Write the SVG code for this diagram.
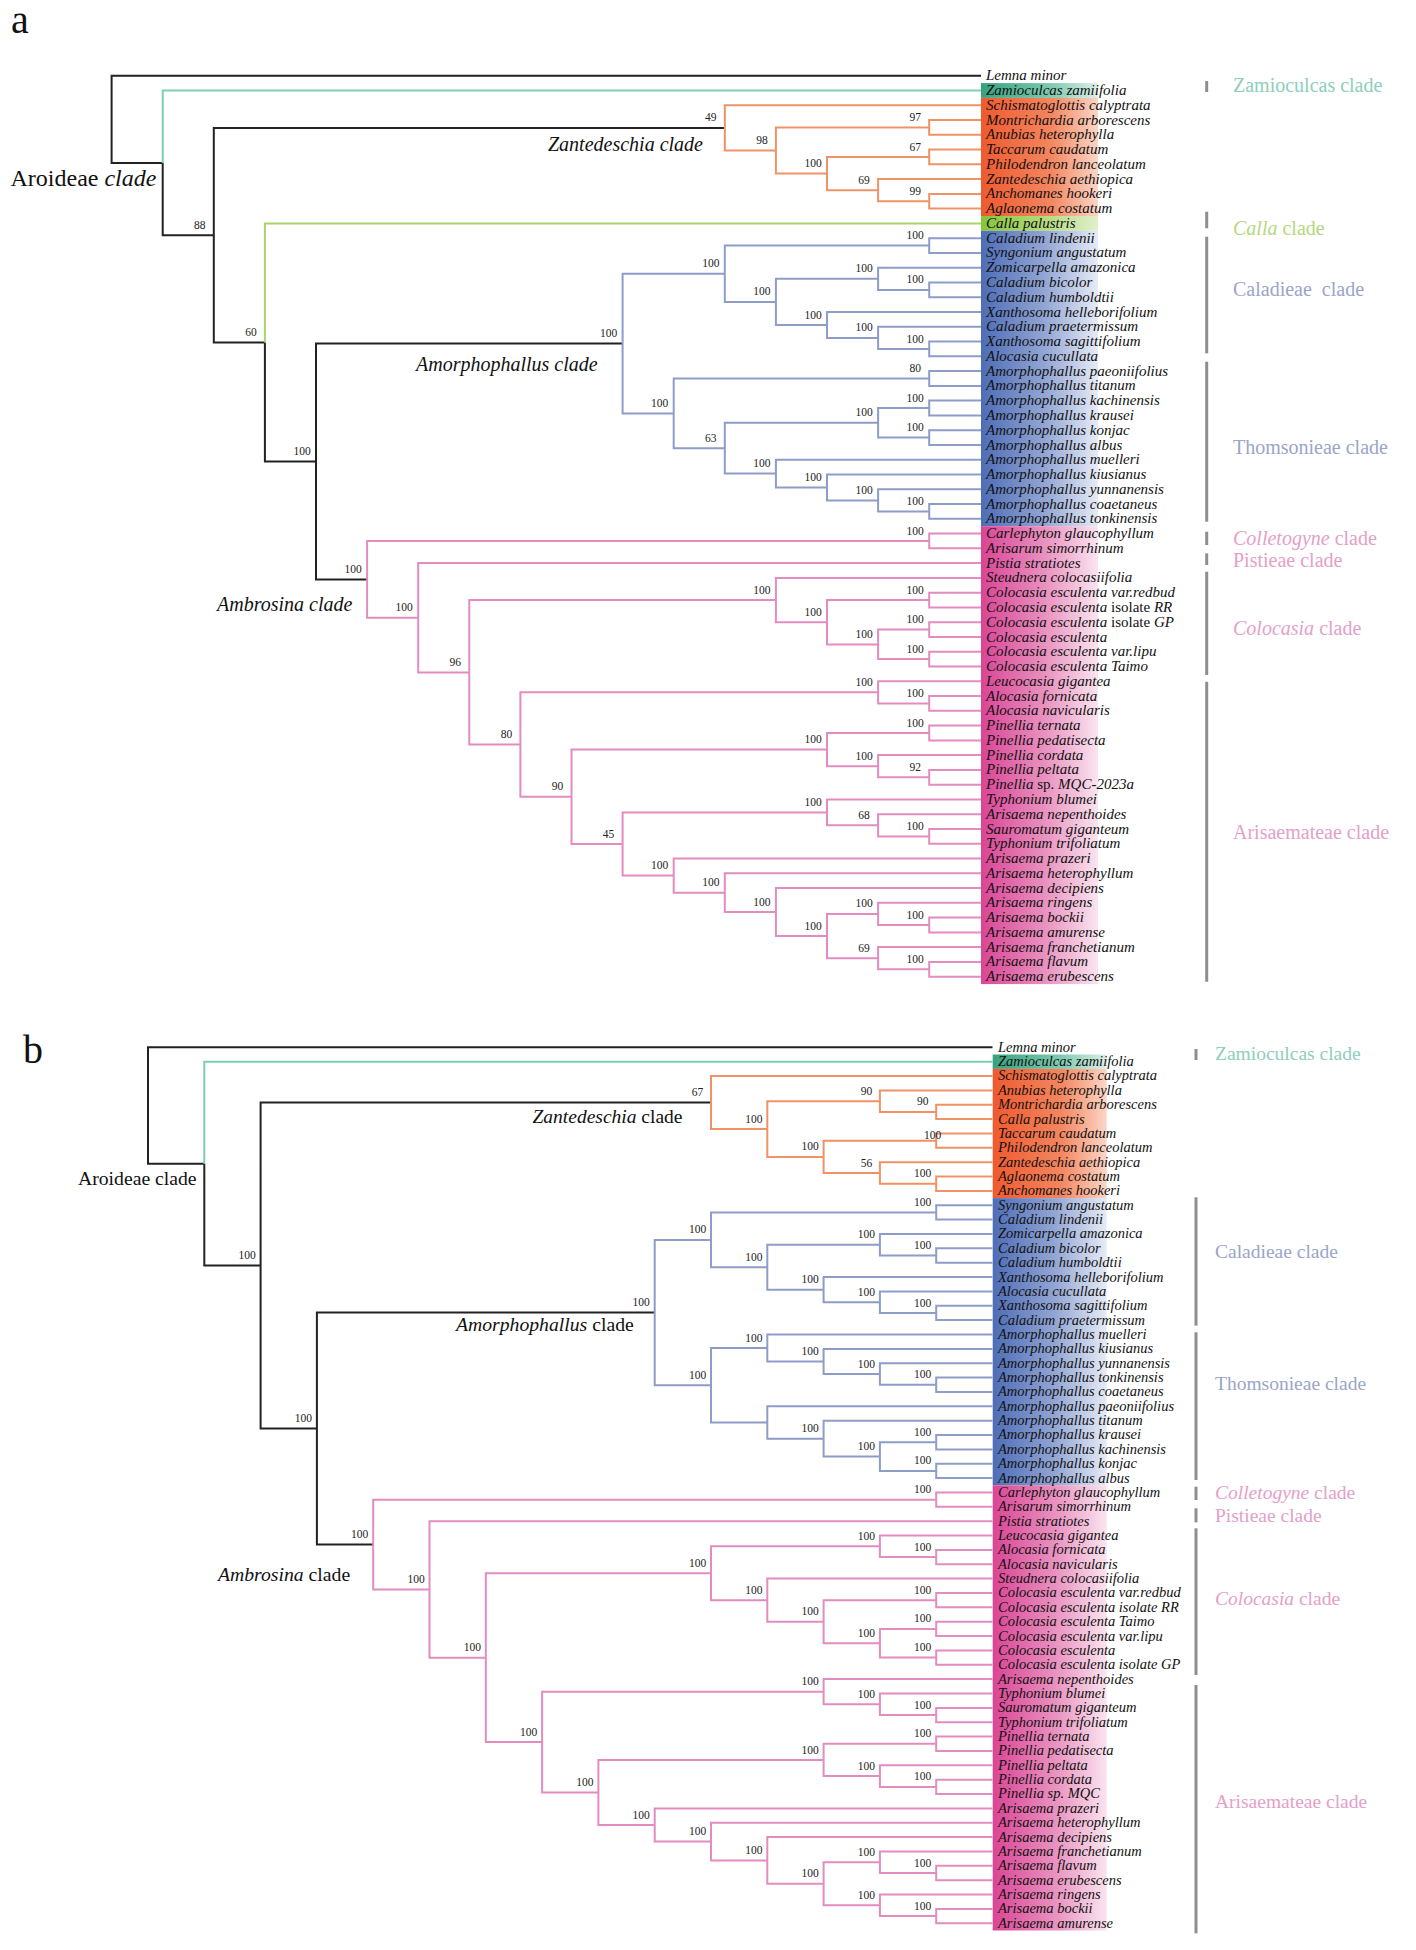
<svg xmlns="http://www.w3.org/2000/svg" width="1416" height="1950" viewBox="0 0 1416 1950">
<style>
.ta{font-family:"Liberation Serif",serif;font-style:italic;font-size:15px;fill:#111}
.tb{font-family:"Liberation Serif",serif;font-style:italic;font-size:14.5px;fill:#111}
.n{font-style:normal}
.i{font-style:italic}
.bs{font-family:"Liberation Serif",serif;font-size:11.5px;fill:#222;text-anchor:middle}
.cl{font-family:"Liberation Serif",serif;font-size:20px}
.clb{font-family:"Liberation Serif",serif;font-size:19.5px}
.tree{font-family:"Liberation Serif",serif;fill:#111}
.br{fill:none;stroke-width:2;stroke-linejoin:miter}
.k{stroke:#222}
.te{stroke:#7fcdb3}
.gr{stroke:#a8d46a}
.or{stroke:#ef9266}
.bl{stroke:#8d9dc8}
.pk{stroke:#e38cc0}
.bar{stroke:#8e8e8e;stroke-width:3}
.cte{fill:#8ccfba}.cgr{fill:#b6d77d}.cbl{fill:#9aa5c8}.cpk{fill:#e4a0c9}
.pl{font-family:"Liberation Serif",serif;font-size:40px;fill:#111}
</style>
<defs>
<linearGradient id="gT" x1="0" y1="0" x2="1" y2="0"><stop offset="0" stop-color="#36a27f"/><stop offset="0.6" stop-color="#7fc9b0"/><stop offset="1" stop-color="#dcf0e8"/></linearGradient>
<linearGradient id="gO" x1="0" y1="0" x2="1" y2="0"><stop offset="0" stop-color="#ef5a2f"/><stop offset="0.6" stop-color="#f38660"/><stop offset="1" stop-color="#fbd6c6"/></linearGradient>
<linearGradient id="gG" x1="0" y1="0" x2="1" y2="0"><stop offset="0" stop-color="#86c53b"/><stop offset="0.55" stop-color="#b4db7f"/><stop offset="1" stop-color="#e0f0cb"/></linearGradient>
<linearGradient id="gB" x1="0" y1="0" x2="1" y2="0"><stop offset="0" stop-color="#4e6db6"/><stop offset="0.55" stop-color="#93a6d4"/><stop offset="1" stop-color="#e6ebf6"/></linearGradient>
<linearGradient id="gP" x1="0" y1="0" x2="1" y2="0"><stop offset="0" stop-color="#da4595"/><stop offset="0.55" stop-color="#e992c0"/><stop offset="1" stop-color="#fae4ef"/></linearGradient>
</defs>
<rect width="1416" height="1950" fill="#fff"/>

<g id="panel-labels">
<text class="pl" x="11" y="33">a</text>
<text class="pl" x="23" y="1063">b</text>
</g>

<g id="highlights">
<rect x="981" y="83.1" width="117" height="14.8" fill="url(#gT)"/>
<rect x="981" y="97.9" width="117" height="118.1" fill="url(#gO)"/>
<rect x="981" y="216" width="117" height="14.8" fill="url(#gG)"/>
<rect x="981" y="230.8" width="117" height="295.4" fill="url(#gB)"/>
<rect x="981" y="526.2" width="117" height="457.9" fill="url(#gP)"/>
<rect x="992.7" y="1054.5" width="114" height="14.4" fill="url(#gT)"/>
<rect x="992.7" y="1068.9" width="114" height="129.2" fill="url(#gO)"/>
<rect x="992.7" y="1198.1" width="114" height="287.2" fill="url(#gB)"/>
<rect x="992.7" y="1485.3" width="114" height="445.2" fill="url(#gP)"/>
</g>

<g id="connectors">
<path class="br k" d="M111.6 119.3V75.7H981M111.6 119.3V162.9H162.7M162.7 162.9V235.2H213.8M213.8 235.2V127.9H724.8M213.8 235.2V342.5H264.9M264.9 342.5V461.5H316M316 461.5V343.6H622.6M316 461.5V579.4H367.1"/>
<path class="br te" d="M162.7 162.9V90.5H981"/>
<path class="br gr" d="M264.9 342.5V223.4H981"/>
<path class="br or" d="M724.8 127.9V105.2H981M724.8 127.9V150.5H775.9M775.9 150.5V127.4H929.2M775.9 150.5V173.6H827M929.2 127.4V120H981M929.2 127.4V134.8H981M827 173.6V157H929.2M827 173.6V190.2H878.1M929.2 157V149.6H981M929.2 157V164.3H981M878.1 190.2V179.1H981M878.1 190.2V201.3H929.2M929.2 201.3V193.9H981M929.2 201.3V208.6H981"/>
<path class="br bl" d="M622.6 343.6V273.8H724.8M622.6 343.6V413.4H673.7M724.8 273.8V245.6H929.2M724.8 273.8V301.9H775.9M929.2 245.6V238.2H981M929.2 245.6V252.9H981M775.9 301.9V278.8H878.1M775.9 301.9V325H827M878.1 278.8V267.7H981M878.1 278.8V289.9H929.2M929.2 289.9V282.5H981M929.2 289.9V297.3H981M827 325V312H981M827 325V337.9H878.1M878.1 337.9V326.8H981M878.1 337.9V349H929.2M929.2 349V341.6H981M929.2 349V356.3H981M673.7 413.4V378.5H929.2M673.7 413.4V448.2H724.8M929.2 378.5V371.1H981M929.2 378.5V385.9H981M724.8 448.2V422.8H878.1M724.8 448.2V473.6H775.9M878.1 422.8V408H929.2M878.1 422.8V437.6H929.2M929.2 408V400.6H981M929.2 408V415.4H981M929.2 437.6V430.2H981M929.2 437.6V445H981M775.9 473.6V459.7H981M775.9 473.6V487.5H827M827 487.5V474.5H981M827 487.5V500.4H878.1M878.1 500.4V489.3H981M878.1 500.4V511.4H929.2M929.2 511.4V504H981M929.2 511.4V518.8H981"/>
<path class="br pk" d="M367.1 579.4V541H929.2M367.1 579.4V617.8H418.2M929.2 541V533.6H981M929.2 541V548.3H981M418.2 617.8V563.1H981M418.2 617.8V672.4H469.3M469.3 672.4V600.1H775.9M469.3 672.4V744.6H520.4M775.9 600.1V577.9H981M775.9 600.1V622.2H827M827 622.2V600.1H929.2M827 622.2V644.4H878.1M929.2 600.1V592.7H981M929.2 600.1V607.4H981M878.1 644.4V629.6H929.2M878.1 644.4V659.1H929.2M929.2 629.6V622.2H981M929.2 629.6V637H981M929.2 659.1V651.7H981M929.2 659.1V666.5H981M520.4 744.6V692.3H878.1M520.4 744.6V796.8H571.5M878.1 692.3V681.3H981M878.1 692.3V703.4H929.2M929.2 703.4V696H981M929.2 703.4V710.8H981M571.5 796.8V749.6H827M571.5 796.8V844H622.6M827 749.6V733H929.2M827 749.6V766.2H878.1M929.2 733V725.6H981M929.2 733V740.4H981M878.1 766.2V755.1H981M878.1 766.2V777.3H929.2M929.2 777.3V769.9H981M929.2 777.3V784.7H981M622.6 844V812.4H827M622.6 844V875.6H673.7M827 812.4V799.4H981M827 812.4V825.3H878.1M878.1 825.3V814.2H981M878.1 825.3V836.4H929.2M929.2 836.4V829H981M929.2 836.4V843.7H981M673.7 875.6V858.5H981M673.7 875.6V892.7H724.8M724.8 892.7V873.3H981M724.8 892.7V912.1H775.9M775.9 912.1V888.1H981M775.9 912.1V936.1H827M827 936.1V913.9H878.1M827 936.1V958.2H878.1M878.1 913.9V902.8H981M878.1 913.9V925H929.2M929.2 925V917.6H981M929.2 925V932.4H981M878.1 958.2V947.1H981M878.1 958.2V969.3H929.2M929.2 969.3V961.9H981M929.2 969.3V976.7H981"/>

<path class="br k" d="M148 1105.5V1047.3H992.5M148 1105.5V1163.7H204.3M204.3 1163.7V1265.6H260.6M260.6 1265.6V1102.6H711M260.6 1265.6V1428.6H316.9M316.9 1428.6V1312.6H654.7M316.9 1428.6V1544.6H373.2"/>
<path class="br te" d="M204.3 1163.7V1061.7H992.5"/>
<path class="br or" d="M711 1102.6V1076H992.5M711 1102.6V1129.1H767.3M767.3 1129.1V1101.2H879.9M767.3 1129.1V1156.9H823.6M879.9 1101.2V1090.4H992.5M879.9 1101.2V1111.9H936.2M936.2 1111.9V1104.7H992.5M936.2 1111.9V1119.1H992.5M823.6 1156.9V1140.7H936.2M823.6 1156.9V1173H879.9M936.2 1140.7V1133.5H992.5M936.2 1140.7V1147.8H992.5M879.9 1173V1162.2H992.5M879.9 1173V1183.7H936.2M936.2 1183.7V1176.5H992.5M936.2 1183.7V1190.9H992.5"/>
<path class="br bl" d="M654.7 1312.6V1239.9H711M654.7 1312.6V1385.3H711M711 1239.9V1212.5H936.2M711 1239.9V1267.3H767.3M936.2 1212.5V1205.3H992.5M936.2 1212.5V1219.6H992.5M767.3 1267.3V1244.8H879.9M767.3 1267.3V1289.7H823.6M879.9 1244.8V1234H992.5M879.9 1244.8V1255.5H936.2M936.2 1255.5V1248.3H992.5M936.2 1255.5V1262.7H992.5M823.6 1289.7V1277.1H992.5M823.6 1289.7V1302.2H879.9M879.9 1302.2V1291.4H992.5M879.9 1302.2V1313H936.2M936.2 1313V1305.8H992.5M936.2 1313V1320.1H992.5M711 1385.3V1348H767.3M711 1385.3V1422.5H767.3M767.3 1348V1334.5H992.5M767.3 1348V1361.5H823.6M823.6 1361.5V1348.9H992.5M823.6 1361.5V1374H879.9M879.9 1374V1363.2H992.5M879.9 1374V1384.8H936.2M936.2 1384.8V1377.6H992.5M936.2 1384.8V1391.9H992.5M767.3 1422.5V1406.3H992.5M767.3 1422.5V1438.7H823.6M823.6 1438.7V1420.7H992.5M823.6 1438.7V1456.6H879.9M879.9 1456.6V1442.2H936.2M879.9 1456.6V1470.9H936.2M936.2 1442.2V1435H992.5M936.2 1442.2V1449.4H992.5M936.2 1470.9V1463.7H992.5M936.2 1470.9V1478.1H992.5"/>
<path class="br pk" d="M373.2 1544.6V1499.7H936.2M373.2 1544.6V1589.5H429.5M936.2 1499.7V1492.5H992.5M936.2 1499.7V1506.8H992.5M429.5 1589.5V1521.2H992.5M429.5 1589.5V1657.7H485.8M485.8 1657.7V1573.3H711M485.8 1657.7V1742.1H542.1M711 1573.3V1546.3H879.9M711 1573.3V1600.2H767.3M879.9 1546.3V1535.5H992.5M879.9 1546.3V1557.1H936.2M936.2 1557.1V1549.9H992.5M936.2 1557.1V1564.3H992.5M767.3 1600.2V1578.6H992.5M767.3 1600.2V1621.8H823.6M823.6 1621.8V1600.2H936.2M823.6 1621.8V1643.3H879.9M936.2 1600.2V1593H992.5M936.2 1600.2V1607.3H992.5M879.9 1643.3V1628.9H936.2M879.9 1643.3V1657.6H936.2M936.2 1628.9V1621.7H992.5M936.2 1628.9V1636.1H992.5M936.2 1657.6V1650.4H992.5M936.2 1657.6V1664.8H992.5M542.1 1742.1V1691.7H823.6M542.1 1742.1V1792.5H598.4M823.6 1691.7V1679.1H992.5M823.6 1691.7V1704.3H879.9M879.9 1704.3V1693.5H992.5M879.9 1704.3V1715.1H936.2M936.2 1715.1V1707.9H992.5M936.2 1715.1V1722.2H992.5M598.4 1792.5V1760H823.6M598.4 1792.5V1825H654.7M823.6 1760V1743.8H936.2M823.6 1760V1776.1H879.9M936.2 1743.8V1736.6H992.5M936.2 1743.8V1750.9H992.5M879.9 1776.1V1765.3H992.5M879.9 1776.1V1786.9H936.2M936.2 1786.9V1779.7H992.5M936.2 1786.9V1794H992.5M654.7 1825V1808.4H992.5M654.7 1825V1841.6H711M711 1841.6V1822.7H992.5M711 1841.6V1860.5H767.3M767.3 1860.5V1837.1H992.5M767.3 1860.5V1883.8H823.6M823.6 1883.8V1862.3H879.9M823.6 1883.8V1905.3H879.9M879.9 1862.3V1851.5H992.5M879.9 1862.3V1873H936.2M936.2 1873V1865.8H992.5M936.2 1873V1880.2H992.5M879.9 1905.3V1894.5H992.5M879.9 1905.3V1916.1H936.2M936.2 1916.1V1908.9H992.5M936.2 1916.1V1923.3H992.5"/>
</g>

<g id="support-a">
<text class="bs" x="199.8" y="228.7">88</text>
<text class="bs" x="250.9" y="336">60</text>
<text class="bs" x="302" y="455">100</text>
<text class="bs" x="608.6" y="337.1">100</text>
<text class="bs" x="353.1" y="572.9">100</text>
<text class="bs" x="710.8" y="121.4">49</text>
<text class="bs" x="761.9" y="144">98</text>
<text class="bs" x="813" y="167.1">100</text>
<text class="bs" x="864.1" y="183.7">69</text>
<text class="bs" x="915.2" y="120.9">97</text>
<text class="bs" x="915.2" y="150.5">67</text>
<text class="bs" x="915.2" y="194.8">99</text>
<text class="bs" x="710.8" y="267.3">100</text>
<text class="bs" x="915.2" y="239.1">100</text>
<text class="bs" x="761.9" y="295.4">100</text>
<text class="bs" x="864.1" y="272.3">100</text>
<text class="bs" x="915.2" y="283.4">100</text>
<text class="bs" x="813" y="318.5">100</text>
<text class="bs" x="864.1" y="331.4">100</text>
<text class="bs" x="915.2" y="342.5">100</text>
<text class="bs" x="659.7" y="406.9">100</text>
<text class="bs" x="915.2" y="372">80</text>
<text class="bs" x="710.8" y="441.7">63</text>
<text class="bs" x="864.1" y="416.3">100</text>
<text class="bs" x="915.2" y="401.5">100</text>
<text class="bs" x="915.2" y="431.1">100</text>
<text class="bs" x="761.9" y="467.1">100</text>
<text class="bs" x="813" y="481">100</text>
<text class="bs" x="864.1" y="493.9">100</text>
<text class="bs" x="915.2" y="504.9">100</text>
<text class="bs" x="915.2" y="534.5">100</text>
<text class="bs" x="404.2" y="611.3">100</text>
<text class="bs" x="455.3" y="665.9">96</text>
<text class="bs" x="761.9" y="593.6">100</text>
<text class="bs" x="813" y="615.7">100</text>
<text class="bs" x="915.2" y="593.6">100</text>
<text class="bs" x="864.1" y="637.9">100</text>
<text class="bs" x="915.2" y="623.1">100</text>
<text class="bs" x="915.2" y="652.6">100</text>
<text class="bs" x="506.4" y="738.1">80</text>
<text class="bs" x="864.1" y="685.8">100</text>
<text class="bs" x="915.2" y="696.9">100</text>
<text class="bs" x="557.5" y="790.3">90</text>
<text class="bs" x="813" y="743.1">100</text>
<text class="bs" x="915.2" y="726.5">100</text>
<text class="bs" x="864.1" y="759.7">100</text>
<text class="bs" x="915.2" y="770.8">92</text>
<text class="bs" x="608.6" y="837.5">45</text>
<text class="bs" x="813" y="805.9">100</text>
<text class="bs" x="864.1" y="818.8">68</text>
<text class="bs" x="915.2" y="829.9">100</text>
<text class="bs" x="659.7" y="869.1">100</text>
<text class="bs" x="710.8" y="886.2">100</text>
<text class="bs" x="761.9" y="905.6">100</text>
<text class="bs" x="813" y="929.6">100</text>
<text class="bs" x="864.1" y="907.4">100</text>
<text class="bs" x="915.2" y="918.5">100</text>
<text class="bs" x="864.1" y="951.7">69</text>
<text class="bs" x="915.2" y="962.8">100</text>
</g>

<g id="support-b">
<text class="bs" x="247.1" y="1259.1">100</text>
<text class="bs" x="303.4" y="1422.1">100</text>
<text class="bs" x="359.7" y="1538.1">100</text>
<text class="bs" x="641.2" y="1306.1">100</text>
<text class="bs" x="697.5" y="1096.1">67</text>
<text class="bs" x="753.8" y="1122.6">100</text>
<text class="bs" x="866.4" y="1094.7">90</text>
<text class="bs" x="922.7" y="1105.4">90</text>
<text class="bs" x="810.1" y="1150.4">100</text>
<text class="bs" x="932.5" y="1139">100</text>
<text class="bs" x="866.4" y="1166.5">56</text>
<text class="bs" x="922.7" y="1177.2">100</text>
<text class="bs" x="697.5" y="1233.4">100</text>
<text class="bs" x="922.7" y="1206">100</text>
<text class="bs" x="753.8" y="1260.8">100</text>
<text class="bs" x="866.4" y="1238.3">100</text>
<text class="bs" x="922.7" y="1249">100</text>
<text class="bs" x="810.1" y="1283.2">100</text>
<text class="bs" x="866.4" y="1295.7">100</text>
<text class="bs" x="922.7" y="1306.5">100</text>
<text class="bs" x="697.5" y="1378.8">100</text>
<text class="bs" x="753.8" y="1341.5">100</text>
<text class="bs" x="810.1" y="1355">100</text>
<text class="bs" x="866.4" y="1367.5">100</text>
<text class="bs" x="922.7" y="1378.3">100</text>
<text class="bs" x="810.1" y="1432.2">100</text>
<text class="bs" x="866.4" y="1450.1">100</text>
<text class="bs" x="922.7" y="1435.7">100</text>
<text class="bs" x="922.7" y="1464.4">100</text>
<text class="bs" x="922.7" y="1493.2">100</text>
<text class="bs" x="416" y="1583">100</text>
<text class="bs" x="472.3" y="1651.2">100</text>
<text class="bs" x="697.5" y="1566.8">100</text>
<text class="bs" x="866.4" y="1539.8">100</text>
<text class="bs" x="922.7" y="1550.6">100</text>
<text class="bs" x="753.8" y="1593.7">100</text>
<text class="bs" x="810.1" y="1615.3">100</text>
<text class="bs" x="922.7" y="1593.7">100</text>
<text class="bs" x="866.4" y="1636.8">100</text>
<text class="bs" x="922.7" y="1622.4">100</text>
<text class="bs" x="922.7" y="1651.1">100</text>
<text class="bs" x="528.6" y="1735.6">100</text>
<text class="bs" x="810.1" y="1685.2">100</text>
<text class="bs" x="866.4" y="1697.8">100</text>
<text class="bs" x="922.7" y="1708.6">100</text>
<text class="bs" x="584.9" y="1786">100</text>
<text class="bs" x="810.1" y="1753.5">100</text>
<text class="bs" x="922.7" y="1737.3">100</text>
<text class="bs" x="866.4" y="1769.6">100</text>
<text class="bs" x="922.7" y="1780.4">100</text>
<text class="bs" x="641.2" y="1818.5">100</text>
<text class="bs" x="697.5" y="1835.1">100</text>
<text class="bs" x="753.8" y="1854">100</text>
<text class="bs" x="810.1" y="1877.3">100</text>
<text class="bs" x="866.4" y="1855.8">100</text>
<text class="bs" x="922.7" y="1866.5">100</text>
<text class="bs" x="866.4" y="1898.8">100</text>
<text class="bs" x="922.7" y="1909.6">100</text>
</g>

<g id="tree-clade-names">
<text class="tree" x="10.5" y="186" font-size="24">Aroideae <tspan class="i">clade</tspan></text>
<text class="tree i" x="548" y="150.5" font-size="20">Zantedeschia clade</text>
<text class="tree i" x="416" y="371" font-size="20">Amorphophallus clade</text>
<text class="tree i" x="217" y="611" font-size="20">Ambrosina clade</text>
<text class="tree" x="78" y="1185" font-size="19.7">Aroideae clade</text>
<text class="tree" x="532.5" y="1122.5" font-size="19.5"><tspan class="i">Zantedeschia</tspan> clade</text>
<text class="tree" x="456" y="1331" font-size="19.7"><tspan class="i">Amorphophallus</tspan> clade</text>
<text class="tree" x="218" y="1581" font-size="19.7"><tspan class="i">Ambrosina</tspan> clade</text>
</g>

<g id="clade-bars">
<line class="bar" x1="1206.7" y1="81" x2="1206.7" y2="92"/>
<line class="bar" x1="1206.7" y1="211.7" x2="1206.7" y2="228.3"/>
<line class="bar" x1="1206.7" y1="236.7" x2="1206.7" y2="353.3"/>
<line class="bar" x1="1206.7" y1="361.7" x2="1206.7" y2="521.7"/>
<line class="bar" x1="1206.7" y1="531.7" x2="1206.7" y2="545"/>
<line class="bar" x1="1206.7" y1="553.3" x2="1206.7" y2="565"/>
<line class="bar" x1="1206.7" y1="571.7" x2="1206.7" y2="675"/>
<line class="bar" x1="1206.7" y1="681.7" x2="1206.7" y2="981.7"/>
<line class="bar" x1="1196" y1="1049" x2="1196" y2="1060"/>
<line class="bar" x1="1196" y1="1197.3" x2="1196" y2="1325.7"/>
<line class="bar" x1="1196" y1="1332.3" x2="1196" y2="1480"/>
<line class="bar" x1="1196" y1="1486.7" x2="1196" y2="1500"/>
<line class="bar" x1="1196" y1="1508.3" x2="1196" y2="1522.3"/>
<line class="bar" x1="1196" y1="1528.3" x2="1196" y2="1675"/>
<line class="bar" x1="1196" y1="1685" x2="1196" y2="1933.3"/>
</g>

<g id="clade-names-a">
<text class="cl cte" x="1233" y="92">Zamioculcas clade</text>
<text class="cl cgr" x="1233" y="235"><tspan class="i">Calla</tspan> clade</text>
<text class="cl cbl" x="1233" y="296">Caladieae&#160; clade</text>
<text class="cl cbl" x="1233" y="454">Thomsonieae clade</text>
<text class="cl cpk" x="1233" y="545"><tspan class="i">Colletogyne</tspan> clade</text>
<text class="cl cpk" x="1233" y="567">Pistieae clade</text>
<text class="cl cpk" x="1233" y="635"><tspan class="i">Colocasia</tspan> clade</text>
<text class="cl cpk" x="1233" y="839">Arisaemateae clade</text>
</g>
<g id="clade-names-b">
<text class="clb cte" x="1215" y="1060">Zamioculcas clade</text>
<text class="clb cbl" x="1215" y="1258">Caladieae clade</text>
<text class="clb cbl" x="1215" y="1390">Thomsonieae clade</text>
<text class="clb cpk" x="1215" y="1499"><tspan class="i">Colletogyne</tspan> clade</text>
<text class="clb cpk" x="1215" y="1522">Pistieae clade</text>
<text class="clb cpk" x="1215" y="1605"><tspan class="i">Colocasia</tspan> clade</text>
<text class="clb cpk" x="1215" y="1808">Arisaemateae clade</text>
</g>

<g id="leaves-a">
<g id="a00"><text class="ta" x="986" y="80.2" font-size="13.5">Lemna minor</text></g>
<g id="a01"><text class="ta" x="986" y="95">Zamioculcas zamiifolia</text></g>
<g id="a02"><text class="ta" x="986" y="109.7">Schismatoglottis calyptrata</text></g>
<g id="a03"><text class="ta" x="986" y="124.5">Montrichardia arborescens</text></g>
<g id="a04"><text class="ta" x="986" y="139.3">Anubias heterophylla</text></g>
<g id="a05"><text class="ta" x="986" y="154.1">Taccarum caudatum</text></g>
<g id="a06"><text class="ta" x="986" y="168.8">Philodendron lanceolatum</text></g>
<g id="a07"><text class="ta" x="986" y="183.6">Zantedeschia aethiopica</text></g>
<g id="a08"><text class="ta" x="986" y="198.4">Anchomanes hookeri</text></g>
<g id="a09"><text class="ta" x="986" y="213.1">Aglaonema costatum</text></g>
<g id="a10"><text class="ta" x="986" y="227.9">Calla palustris</text></g>
<g id="a11"><text class="ta" x="986" y="242.7">Caladium lindenii</text></g>
<g id="a12"><text class="ta" x="986" y="257.4">Syngonium angustatum</text></g>
<g id="a13"><text class="ta" x="986" y="272.2">Zomicarpella amazonica</text></g>
<g id="a14"><text class="ta" x="986" y="287">Caladium bicolor</text></g>
<g id="a15"><text class="ta" x="986" y="301.8">Caladium humboldtii</text></g>
<g id="a16"><text class="ta" x="986" y="316.5">Xanthosoma helleborifolium</text></g>
<g id="a17"><text class="ta" x="986" y="331.3">Caladium praetermissum</text></g>
<g id="a18"><text class="ta" x="986" y="346.1">Xanthosoma sagittifolium</text></g>
<g id="a19"><text class="ta" x="986" y="360.8">Alocasia cucullata</text></g>
<g id="a20"><text class="ta" x="986" y="375.6">Amorphophallus paeoniifolius</text></g>
<g id="a21"><text class="ta" x="986" y="390.4">Amorphophallus titanum</text></g>
<g id="a22"><text class="ta" x="986" y="405.1">Amorphophallus kachinensis</text></g>
<g id="a23"><text class="ta" x="986" y="419.9">Amorphophallus krausei</text></g>
<g id="a24"><text class="ta" x="986" y="434.7">Amorphophallus konjac</text></g>
<g id="a25"><text class="ta" x="986" y="449.5">Amorphophallus albus</text></g>
<g id="a26"><text class="ta" x="986" y="464.2">Amorphophallus muelleri</text></g>
<g id="a27"><text class="ta" x="986" y="479">Amorphophallus kiusianus</text></g>
<g id="a28"><text class="ta" x="986" y="493.8">Amorphophallus yunnanensis</text></g>
<g id="a29"><text class="ta" x="986" y="508.5">Amorphophallus coaetaneus</text></g>
<g id="a30"><text class="ta" x="986" y="523.3">Amorphophallus tonkinensis</text></g>
<g id="a31"><text class="ta" x="986" y="538.1">Carlephyton glaucophyllum</text></g>
<g id="a32"><text class="ta" x="986" y="552.8">Arisarum simorrhinum</text></g>
<g id="a33"><text class="ta" x="986" y="567.6">Pistia stratiotes</text></g>
<g id="a34"><text class="ta" x="986" y="582.4">Steudnera colocasiifolia</text></g>
<g id="a35"><text class="ta" x="986" y="597.2">Colocasia esculenta var.redbud</text></g>
<g id="a36"><text class="ta" x="986" y="611.9">Colocasia esculenta <tspan class="n">isolate</tspan> RR</text></g>
<g id="a37"><text class="ta" x="986" y="626.7">Colocasia esculenta <tspan class="n">isolate</tspan> GP</text></g>
<g id="a38"><text class="ta" x="986" y="641.5">Colocasia esculenta</text></g>
<g id="a39"><text class="ta" x="986" y="656.2">Colocasia esculenta var.lipu</text></g>
<g id="a40"><text class="ta" x="986" y="671">Colocasia esculenta Taimo</text></g>
<g id="a41"><text class="ta" x="986" y="685.8">Leucocasia gigantea</text></g>
<g id="a42"><text class="ta" x="986" y="700.5">Alocasia fornicata</text></g>
<g id="a43"><text class="ta" x="986" y="715.3">Alocasia navicularis</text></g>
<g id="a44"><text class="ta" x="986" y="730.1">Pinellia ternata</text></g>
<g id="a45"><text class="ta" x="986" y="744.9">Pinellia pedatisecta</text></g>
<g id="a46"><text class="ta" x="986" y="759.6">Pinellia cordata</text></g>
<g id="a47"><text class="ta" x="986" y="774.4">Pinellia peltata</text></g>
<g id="a48"><text class="ta" x="986" y="789.2">Pinellia <tspan class="n">sp.</tspan> MQC-2023a</text></g>
<g id="a49"><text class="ta" x="986" y="803.9">Typhonium blumei</text></g>
<g id="a50"><text class="ta" x="986" y="818.7">Arisaema nepenthoides</text></g>
<g id="a51"><text class="ta" x="986" y="833.5">Sauromatum giganteum</text></g>
<g id="a52"><text class="ta" x="986" y="848.2">Typhonium trifoliatum</text></g>
<g id="a53"><text class="ta" x="986" y="863">Arisaema prazeri</text></g>
<g id="a54"><text class="ta" x="986" y="877.8">Arisaema heterophyllum</text></g>
<g id="a55"><text class="ta" x="986" y="892.6">Arisaema decipiens</text></g>
<g id="a56"><text class="ta" x="986" y="907.3">Arisaema ringens</text></g>
<g id="a57"><text class="ta" x="986" y="922.1">Arisaema bockii</text></g>
<g id="a58"><text class="ta" x="986" y="936.9">Arisaema amurense</text></g>
<g id="a59"><text class="ta" x="986" y="951.6">Arisaema franchetianum</text></g>
<g id="a60"><text class="ta" x="986" y="966.4">Arisaema flavum</text></g>
<g id="a61"><text class="ta" x="986" y="981.2">Arisaema erubescens</text></g>
</g>

<g id="leaves-b">
<g id="b00"><text class="tb" x="998" y="1051.7" font-size="13">Lemna minor</text></g>
<g id="b01"><text class="tb" x="998" y="1066.1">Zamioculcas zamiifolia</text></g>
<g id="b02"><text class="tb" x="998" y="1080.4">Schismatoglottis calyptrata</text></g>
<g id="b03"><text class="tb" x="998" y="1094.8">Anubias heterophylla</text></g>
<g id="b04"><text class="tb" x="998" y="1109.1">Montrichardia arborescens</text></g>
<g id="b05"><text class="tb" x="998" y="1123.5">Calla palustris</text></g>
<g id="b06"><text class="tb" x="998" y="1137.9">Taccarum caudatum</text></g>
<g id="b07"><text class="tb" x="998" y="1152.2">Philodendron lanceolatum</text></g>
<g id="b08"><text class="tb" x="998" y="1166.6">Zantedeschia aethiopica</text></g>
<g id="b09"><text class="tb" x="998" y="1180.9">Aglaonema costatum</text></g>
<g id="b10"><text class="tb" x="998" y="1195.3">Anchomanes hookeri</text></g>
<g id="b11"><text class="tb" x="998" y="1209.7">Syngonium angustatum</text></g>
<g id="b12"><text class="tb" x="998" y="1224">Caladium lindenii</text></g>
<g id="b13"><text class="tb" x="998" y="1238.4">Zomicarpella amazonica</text></g>
<g id="b14"><text class="tb" x="998" y="1252.7">Caladium bicolor</text></g>
<g id="b15"><text class="tb" x="998" y="1267.1">Caladium humboldtii</text></g>
<g id="b16"><text class="tb" x="998" y="1281.5">Xanthosoma helleborifolium</text></g>
<g id="b17"><text class="tb" x="998" y="1295.8">Alocasia cucullata</text></g>
<g id="b18"><text class="tb" x="998" y="1310.2">Xanthosoma sagittifolium</text></g>
<g id="b19"><text class="tb" x="998" y="1324.5">Caladium praetermissum</text></g>
<g id="b20"><text class="tb" x="998" y="1338.9">Amorphophallus muelleri</text></g>
<g id="b21"><text class="tb" x="998" y="1353.3">Amorphophallus kiusianus</text></g>
<g id="b22"><text class="tb" x="998" y="1367.6">Amorphophallus yunnanensis</text></g>
<g id="b23"><text class="tb" x="998" y="1382">Amorphophallus tonkinensis</text></g>
<g id="b24"><text class="tb" x="998" y="1396.3">Amorphophallus coaetaneus</text></g>
<g id="b25"><text class="tb" x="998" y="1410.7">Amorphophallus paeoniifolius</text></g>
<g id="b26"><text class="tb" x="998" y="1425.1">Amorphophallus titanum</text></g>
<g id="b27"><text class="tb" x="998" y="1439.4">Amorphophallus krausei</text></g>
<g id="b28"><text class="tb" x="998" y="1453.8">Amorphophallus kachinensis</text></g>
<g id="b29"><text class="tb" x="998" y="1468.1">Amorphophallus konjac</text></g>
<g id="b30"><text class="tb" x="998" y="1482.5">Amorphophallus albus</text></g>
<g id="b31"><text class="tb" x="998" y="1496.9">Carlephyton glaucophyllum</text></g>
<g id="b32"><text class="tb" x="998" y="1511.2">Arisarum simorrhinum</text></g>
<g id="b33"><text class="tb" x="998" y="1525.6">Pistia stratiotes</text></g>
<g id="b34"><text class="tb" x="998" y="1539.9">Leucocasia gigantea</text></g>
<g id="b35"><text class="tb" x="998" y="1554.3">Alocasia fornicata</text></g>
<g id="b36"><text class="tb" x="998" y="1568.7">Alocasia navicularis</text></g>
<g id="b37"><text class="tb" x="998" y="1583">Steudnera colocasiifolia</text></g>
<g id="b38"><text class="tb" x="998" y="1597.4">Colocasia esculenta var.redbud</text></g>
<g id="b39"><text class="tb" x="998" y="1611.7">Colocasia esculenta isolate RR</text></g>
<g id="b40"><text class="tb" x="998" y="1626.1">Colocasia esculenta Taimo</text></g>
<g id="b41"><text class="tb" x="998" y="1640.5">Colocasia esculenta var.lipu</text></g>
<g id="b42"><text class="tb" x="998" y="1654.8">Colocasia esculenta</text></g>
<g id="b43"><text class="tb" x="998" y="1669.2">Colocasia esculenta isolate GP</text></g>
<g id="b44"><text class="tb" x="998" y="1683.5">Arisaema nepenthoides</text></g>
<g id="b45"><text class="tb" x="998" y="1697.9">Typhonium blumei</text></g>
<g id="b46"><text class="tb" x="998" y="1712.3">Sauromatum giganteum</text></g>
<g id="b47"><text class="tb" x="998" y="1726.6">Typhonium trifoliatum</text></g>
<g id="b48"><text class="tb" x="998" y="1741">Pinellia ternata</text></g>
<g id="b49"><text class="tb" x="998" y="1755.3">Pinellia pedatisecta</text></g>
<g id="b50"><text class="tb" x="998" y="1769.7">Pinellia peltata</text></g>
<g id="b51"><text class="tb" x="998" y="1784.1">Pinellia cordata</text></g>
<g id="b52"><text class="tb" x="998" y="1798.4">Pinellia sp. MQC</text></g>
<g id="b53"><text class="tb" x="998" y="1812.8">Arisaema prazeri</text></g>
<g id="b54"><text class="tb" x="998" y="1827.1">Arisaema heterophyllum</text></g>
<g id="b55"><text class="tb" x="998" y="1841.5">Arisaema decipiens</text></g>
<g id="b56"><text class="tb" x="998" y="1855.9">Arisaema franchetianum</text></g>
<g id="b57"><text class="tb" x="998" y="1870.2">Arisaema flavum</text></g>
<g id="b58"><text class="tb" x="998" y="1884.6">Arisaema erubescens</text></g>
<g id="b59"><text class="tb" x="998" y="1898.9">Arisaema ringens</text></g>
<g id="b60"><text class="tb" x="998" y="1913.3">Arisaema bockii</text></g>
<g id="b61"><text class="tb" x="998" y="1927.7">Arisaema amurense</text></g>
</g>
</svg>
